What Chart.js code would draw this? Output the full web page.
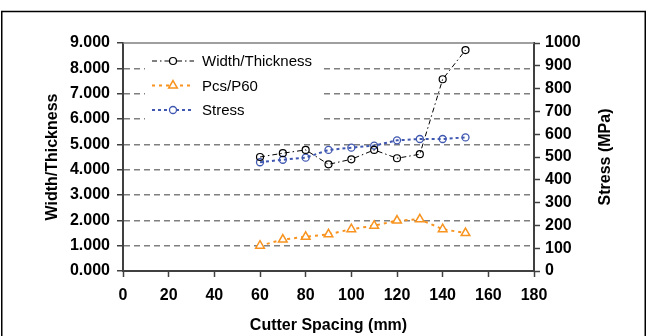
<!DOCTYPE html>
<html>
<head>
<meta charset="utf-8">
<script src="https://cdn.jsdelivr.net/npm/chart.js@4/dist/chart.umd.min.js"></script>
<style>
  body { margin: 0; background: #fff; }
  #wrap { width: 654px; height: 336px; position: relative; }
</style>
</head>
<body>
<div id="wrap"><canvas id="grafico"></canvas></div>
<script>
const spacing = [60, 70, 80, 90, 100, 110, 120, 130, 140, 150];
const widthThickness = [4.50, 4.65, 4.78, 4.21, 4.41, 4.78, 4.45, 4.61, 7.57, 8.72];
const pcsP60 = [1.00, 1.24, 1.35, 1.45, 1.65, 1.79, 1.99, 2.04, 1.65, 1.50];
const stress = [477, 488, 497, 531, 541, 550, 573, 579, 579, 586];

const seriesNames = ['Width/Thickness', 'Pcs/P60', 'Stress'];
const xTicks = { min: 0, max: 180, step: 20 };
const leftTicks = { min: 0, max: 9, step: 1 };
const rightTicks = { min: 0, max: 1000, step: 100 };
const rightTitle = 'Stress (MPa)';

const fonte = "'Liberation Sans', Arial, sans-serif";
const eixo = '#404040';
const grade = '#7f7f7f';

const pontos = (ys) => spacing.map((x, i) => ({ x, y: ys[i] }));

// frame around the whole figure + solid top edge of the plot
const moldura = {
  id: 'moldura',
  beforeDraw(chart) {
    const ctx = chart.ctx;
    ctx.save();
    ctx.fillStyle = '#fff';
    ctx.fillRect(0, 0, chart.width, chart.height);
    ctx.strokeStyle = '#000';
    ctx.lineWidth = 1.5;
    ctx.strokeRect(1.75, 11.5, 643.5, 400);
    ctx.restore();
  },
  beforeDatasetsDraw(chart) {
    const { ctx, chartArea } = chart;
    ctx.save();
    ctx.strokeStyle = grade;
    ctx.lineWidth = 1.5;
    ctx.beginPath();
    ctx.moveTo(chartArea.left, chartArea.top);
    ctx.lineTo(chartArea.right, chartArea.top);
    ctx.stroke();
    ctx.restore();
  },
  // right axis title reads bottom-to-top, like the left one
  afterDraw(chart) {
    const ctx = chart.ctx;
    const s = chart.scales.y2;
    ctx.save();
    ctx.translate(606, (s.top + s.bottom) / 2);
    ctx.rotate(-Math.PI / 2);
    ctx.fillStyle = '#000';
    ctx.font = 'bold 16px ' + fonte;
    ctx.textAlign = 'center';
    ctx.textBaseline = 'middle';
    ctx.fillText(rightTitle, 0, 0);
    ctx.restore();
  }
};

// legend sitting inside the plot, upper left
const legenda = {
  id: 'legenda',
  beforeDatasetsDraw(chart) {
    const ctx = chart.ctx;
    const left = chart.chartArea.left + 22;
    const top = chart.chartArea.top + 3;
    ctx.save();
    ctx.fillStyle = '#fff';
    ctx.fillRect(left, top, 176, 80);
    chart.data.datasets.forEach((ds, i) => {
      const y = top + 15 + i * 24.5;
      const x0 = left + 7, x1 = left + 49, xm = (x0 + x1) / 2;
      ctx.strokeStyle = ds.borderColor;
      ctx.lineWidth = ds.borderWidth;
      ctx.setLineDash(ds.borderDash);
      ctx.beginPath();
      ctx.moveTo(x0, y);
      ctx.lineTo(x1, y);
      ctx.stroke();
      ctx.setLineDash([]);
      ctx.fillStyle = '#fff';
      ctx.lineWidth = ds.pointBorderWidth;
      Chart.helpers.drawPoint(ctx, {
        pointStyle: ds.pointStyle,
        radius: ds.pointRadius,
        rotation: 0,
        borderWidth: ds.pointBorderWidth
      }, xm, y);
      ctx.fillStyle = '#000';
      ctx.font = '15px ' + fonte;
      ctx.textBaseline = 'middle';
      ctx.fillText(ds.label, x1 + 8, y + 1);
    });
    ctx.restore();
  }
};

new Chart(document.getElementById('grafico'), {
  type: 'line',
  data: {
    datasets: [{
      label: seriesNames[0],
      data: pontos(widthThickness),
      yAxisID: 'y',
      borderColor: '#000',
      borderWidth: 1,
      borderDash: [5, 3, 1.5, 3],
      pointStyle: 'circle',
      pointRadius: 3.5,
      pointBorderWidth: 1.2,
      pointBorderColor: '#000',
      pointBackgroundColor: 'rgba(255,255,255,0)'
    }, {
      label: seriesNames[1],
      data: pontos(pcsP60),
      yAxisID: 'y',
      borderColor: '#f7931e',
      borderWidth: 2,
      borderDash: [3, 4],
      pointStyle: 'triangle',
      pointRadius: 5,
      pointBorderWidth: 1.5,
      pointBorderColor: '#f7931e',
      pointBackgroundColor: '#fff'
    }, {
      label: seriesNames[2],
      data: pontos(stress),
      yAxisID: 'y2',
      borderColor: '#3f57b0',
      borderWidth: 2,
      borderDash: [3, 3],
      pointStyle: 'circle',
      pointRadius: 3.5,
      pointBorderWidth: 1.3,
      pointBorderColor: '#3f57b0',
      pointBackgroundColor: 'rgba(255,255,255,0)'
    }]
  },
  options: {
    responsive: true,
    maintainAspectRatio: false,
    animation: false,
    layout: { padding: { top: 43, left: 0, right: 0, bottom: 0 } },
    plugins: {
      legend: { display: false },
      tooltip: { enabled: false }
    },
    scales: {
      x: {
        type: 'linear',
        min: xTicks.min,
        max: xTicks.max,
        afterFit: (s) => { s.height = 65; },
        border: { color: eixo, width: 2 },
        grid: { drawOnChartArea: false, tickLength: 6, tickColor: eixo, tickWidth: 1.5 },
        ticks: { stepSize: xTicks.step, padding: 9, color: '#000', font: { family: fonte, size: 16, weight: 'bold' } },
        title: { display: true, text: 'Cutter Spacing (mm)', color: '#000', padding: { top: 0, bottom: 1 },
                 font: { family: fonte, size: 16, weight: 'bold' } }
      },
      y: {
        position: 'left',
        min: leftTicks.min,
        max: leftTicks.max,
        afterFit: (s) => { s.width = 123; },
        border: { color: eixo, width: 2, dash: [6, 4] },
        grid: {
          color: (c) => (c.tick && c.tick.value > leftTicks.min && c.tick.value < leftTicks.max) ? grade : 'rgba(0,0,0,0)',
          lineWidth: 1.5,
          tickLength: 6, tickColor: eixo, tickWidth: 1.5, tickBorderDash: []
        },
        ticks: { stepSize: leftTicks.step, padding: 7, color: '#000',
                 callback: (v) => v.toFixed(3),
                 font: { family: fonte, size: 16, weight: 'bold' } },
        title: { display: true, text: 'Width/Thickness', color: '#000', padding: { top: 43, bottom: 0 },
                 font: { family: fonte, size: 16, weight: 'bold' } }
      },
      y2: {
        position: 'right',
        min: rightTicks.min,
        max: rightTicks.max,
        afterFit: (s) => { s.width = 120; },
        border: { color: eixo, width: 2 },
        grid: { drawOnChartArea: false, tickLength: 6, tickColor: eixo, tickWidth: 1.5 },
        ticks: { stepSize: rightTicks.step, padding: 5, color: '#000',
                 callback: (v) => String(v),
                 font: { family: fonte, size: 16, weight: 'bold' } },
        title: { display: false }
      }
    }
  },
  plugins: [moldura, legenda]
});
</script>
</body>
</html>
